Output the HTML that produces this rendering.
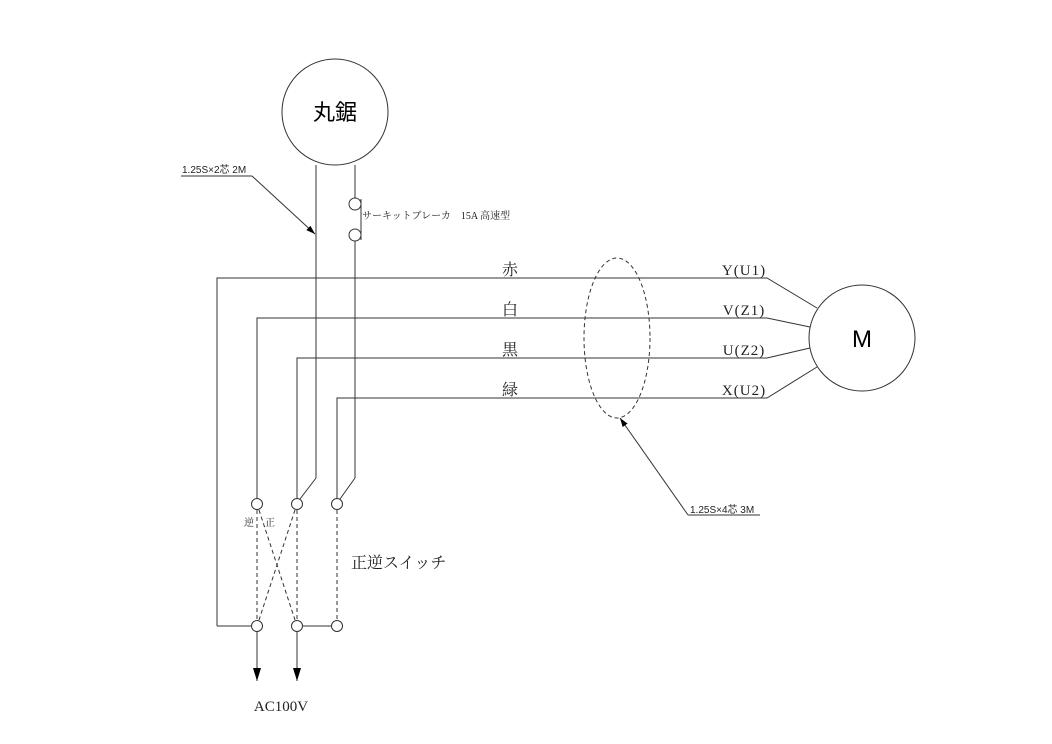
<!DOCTYPE html>
<html><head><meta charset="utf-8"><style>body{margin:0;background:#fff}svg{display:block}text{font-family:"Liberation Serif","Noto Serif CJK SC",serif;fill:#222}</style></head><body>
<svg width="1052" height="744" viewBox="0 0 1052 744" xmlns="http://www.w3.org/2000/svg">
<defs><marker id="a" markerWidth="10" markerHeight="10" refX="9" refY="5" orient="auto" markerUnits="userSpaceOnUse"><path d="M0,2 L9,5 L0,8z" fill="#000"/></marker>
<marker id="b" markerWidth="14" markerHeight="10" refX="13" refY="5" orient="auto" markerUnits="userSpaceOnUse"><path d="M0,1 L13,5 L0,9z" fill="#000"/></marker></defs>
<g stroke="#333" stroke-width="1" fill="none">
<circle cx="335" cy="112" r="53"/>
<circle cx="862" cy="338" r="53"/>
<line x1="316" y1="165" x2="316" y2="478"/><line x1="316" y1="478" x2="300" y2="499"/>
<line x1="355" y1="165" x2="355" y2="198"/><line x1="355" y1="241" x2="355" y2="478"/><line x1="355" y1="478" x2="340" y2="499"/>
<circle cx="355" cy="204" r="6" fill="#fff"/><circle cx="355" cy="235" r="6" fill="#fff"/>
<line x1="361" y1="199" x2="361" y2="240"/>
<polyline points="217,626 217,278 767,278 817,308"/>
<polyline points="257,500 257,318 767,318 810,327"/>
<polyline points="297,500 297,358 767,358 810,348"/>
<polyline points="337,500 337,398 767,398 817,367"/>
<line x1="217" y1="626" x2="251" y2="626"/>
<line x1="303" y1="626" x2="331" y2="626"/>
<g stroke-dasharray="4,3"><line x1="257" y1="510" x2="257" y2="620"/><line x1="297" y1="510" x2="297" y2="620"/><line x1="337" y1="510" x2="337" y2="620"/><line x1="259" y1="510" x2="295" y2="620"/><line x1="295" y1="510" x2="259" y2="620"/></g>
<g fill="#fff"><circle cx="257" cy="504" r="5.5"/><circle cx="297" cy="504" r="5.5"/><circle cx="337" cy="504" r="5.5"/><circle cx="257" cy="626" r="5.5"/><circle cx="297" cy="626" r="5.5"/><circle cx="337" cy="626" r="5.5"/></g>
<line x1="257" y1="632" x2="257" y2="681" marker-end="url(#b)"/>
<line x1="297" y1="632" x2="297" y2="681" marker-end="url(#b)"/>
<ellipse cx="617" cy="338" rx="33" ry="80" stroke-dasharray="4,3"/>
<polyline points="688,515 760,515"/><line x1="688" y1="515" x2="620" y2="418" marker-end="url(#a)"/>
<polyline points="181,176 252,176"/><line x1="252" y1="176" x2="315" y2="234" marker-end="url(#a)"/>
</g>
<text x="335" y="120" font-size="22" text-anchor="middle" style="font-family:'Liberation Sans','Noto Sans CJK JP',sans-serif;fill:#000">丸鋸</text>
<text x="862" y="347" font-size="24" text-anchor="middle" style="font-family:'Liberation Sans',sans-serif;fill:#000">M</text>
<text x="182" y="173" font-size="10" style="font-family:'Liberation Sans','Noto Sans CJK JP',sans-serif">1.25S×2芯 2M</text>
<text x="362" y="219" font-size="10">サーキットブレーカ　15A 高速型</text>
<text x="510" y="275" font-size="16" text-anchor="middle">赤</text>
<text x="510" y="315" font-size="16" text-anchor="middle">白</text>
<text x="510" y="355" font-size="16" text-anchor="middle">黒</text>
<text x="510" y="395" font-size="16" text-anchor="middle">緑</text>
<text x="744" y="275" font-size="15" text-anchor="middle" letter-spacing="1">Y(U1)</text>
<text x="744" y="315" font-size="15" text-anchor="middle" letter-spacing="1">V(Z1)</text>
<text x="744" y="355" font-size="15" text-anchor="middle" letter-spacing="1">U(Z2)</text>
<text x="744" y="395" font-size="15" text-anchor="middle" letter-spacing="1">X(U2)</text>
<text x="690" y="513" font-size="10" style="font-family:'Liberation Sans','Noto Sans CJK JP',sans-serif">1.25S×4芯 3M</text>
<text x="244" y="526" font-size="10">逆</text><text x="265" y="526" font-size="10">正</text>
<text x="351" y="568" font-size="16">正逆スイッチ</text>
<text x="281" y="711" font-size="15" text-anchor="middle">AC100V</text>
</svg>
</body></html>
